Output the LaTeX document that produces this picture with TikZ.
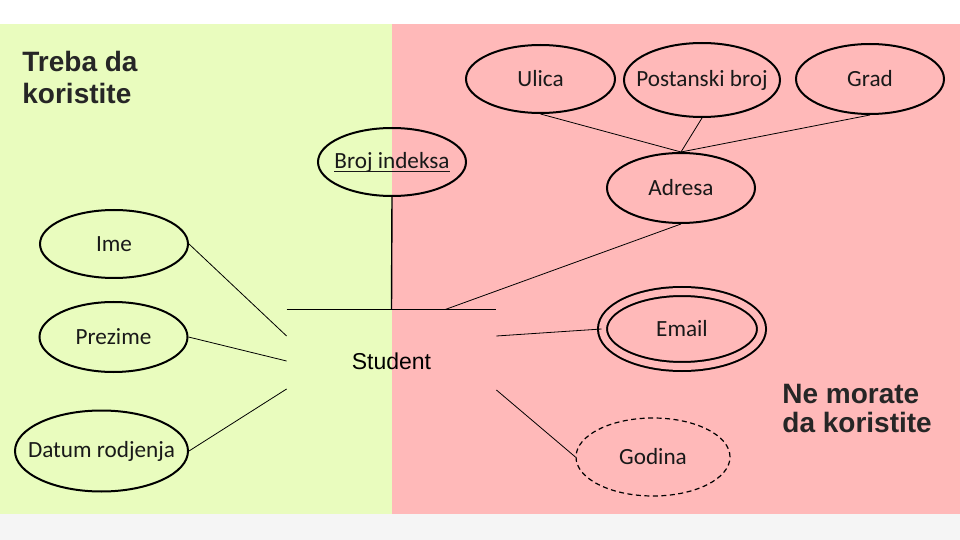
\documentclass[tikz,border=0pt]{standalone}
\usepackage{fontspec}
\setmainfont{Liberation Sans}
\newfontfamily\carlito{Carlito}
\usetikzlibrary{shapes.geometric}
\definecolor{leftbg}{RGB}{233,252,190}
\definecolor{rightbg}{RGB}{255,185,185}
\definecolor{stripbg}{RGB}{245,245,245}
\definecolor{headtext}{RGB}{38,38,38}
\newcommand{\keyattr}[1]{\setbox0\hbox{#1}\rlap{\vrule height -1.4pt depth 2pt width \wd0}\box0}

\begin{document}
\begin{tikzpicture}[x=0.5pt, y=-0.5pt,
    attr/.style={ellipse, draw, line width=1pt, inner xsep=-40pt, inner ysep=0pt,
      font=\carlito\fontsize{11.6}{13}\selectfont, text=black!90},
    link/.style={line width=0.4pt},
    heading/.style={inner sep=0pt, anchor=north west, align=left, text=headtext}]
        \useasboundingbox (0,0) rectangle (960,540);
        \fill[white] (0,0) rectangle (960,24);
        \fill[stripbg] (0,514) rectangle (960,540);
        \fill[leftbg] (0,24) rectangle (392,514);
        \fill[rightbg] (392,24) rectangle (960,514);
        \node[heading, font=\bfseries\fontsize{14}{16}\selectfont] (treba) at (22,51) {Treba da\\koristite};
        \node[heading, font=\bfseries\fontsize{14}{14.5}\selectfont] (nemorate) at (782,384) {Ne morate\\da koristite};
        \node[inner sep=0pt, minimum width=104.5pt, minimum height=51pt,
          font=\fontsize{11.5}{13}\selectfont] (student) at (391.5,361) {Student};
        \node[attr, minimum width=74pt, minimum height=34pt] (broj) at (392,162) {\keyattr{Broj indeksa}};
        \node[attr, minimum width=74.5pt, minimum height=34pt] (ulica) at (540.5,79) {Ulica};
        \node[attr, minimum width=78pt, minimum height=37pt] (postanski) at (702,80) {Postanski broj};
        \node[attr, minimum width=74pt, minimum height=35pt] (grad) at (870,79) {Grad};
        \node[attr, minimum width=74pt, minimum height=35pt] (adresa) at (681,188) {Adresa};
        \node[attr, minimum width=74pt, minimum height=34pt] (ime) at (114,244) {Ime};
        \node[attr, minimum width=74pt, minimum height=35pt] (prezime) at (113.5,337) {Prezime};
        \node[attr, minimum width=86.5pt, minimum height=40.5pt] (datum) at (101.5,451) {Datum rodjenja};
        \node[attr, double=rightbg, double distance=3.5pt, minimum width=79.5pt, minimum height=37.5pt] (email) at (682,329) {Email};
        \node[attr, line width=0.6pt, dash pattern=on 2.5pt off 1.75pt, minimum width=77pt, minimum height=39pt] (godina) at (653,457) {Godina};
        \draw[line width=0.7pt] (student.north west) -- (student.north east);
        \draw[line width=0.7pt] (broj.south) -- (student.north);
        \draw[link] (ime.east) -- ([yshift=12.5pt]student.west);
        \draw[link] (prezime.east) -- (student.west);
        \draw[link] (datum.east) -- ([yshift=-14pt]student.west);
        \draw[link] ([yshift=12.5pt]student.east) -- (email.west);
        \draw[link] ([yshift=-14.5pt]student.east) -- (godina.west);
        \draw[link] (adresa.south) -- ([xshift=26.75pt]student.north);
        \draw[link] (ulica.south) -- (adresa.north);
        \draw[link] (postanski.south) -- (adresa.north);
        \draw[link] (grad.south) -- (adresa.north);
    \end{tikzpicture}
\end{document}
